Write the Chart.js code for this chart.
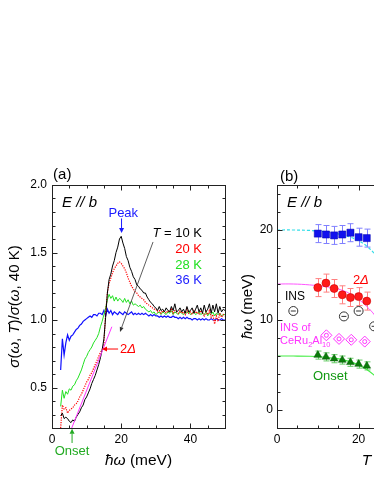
<!DOCTYPE html>
<html><head><meta charset="utf-8">
<script src="https://cdn.jsdelivr.net/npm/chart.js@4/dist/chart.umd.min.js"></script>
<style>
html,body{margin:0;padding:0;width:374px;height:484px;overflow:hidden;background:#fff;}
#wrap{position:relative;width:374px;height:484px;overflow:hidden;}
#ca{position:absolute;left:0;top:0;}
#cb{position:absolute;left:230px;top:0;}
</style></head><body><div id="wrap"><canvas id="ca" width="240" height="484"></canvas><canvas id="cb" width="270" height="484"></canvas></div>
<script>
// ---------- Panel (a) data ----------
const energy = [2.5,3.0,3.5,4.0,4.5,5.0,5.5,6.0,6.5,7.0,7.5,8.0,8.5,9.0,9.5,10.0,10.5,11.0,11.5,12.0,12.5,13.0,13.5,14.0,14.5,15.0,15.5,16.0,16.5,17.0,17.5,18.0,18.5,19.0,19.5,20.0,20.5,21.0,21.5,22.0,22.5,23.0,23.5,24.0,24.5,25.0,25.5,26.0,26.5,27.0,27.5,28.0,28.5,29.0,29.5,30.0,30.5,31.0,31.5,32.0,32.5,33.0,33.5,34.0,34.5,35.0,35.5,36.0,36.5,37.0,37.5,38.0,38.5,39.0,39.5,40.0,40.5,41.0,41.5,42.0,42.5,43.0,43.5,44.0,44.5,45.0,45.5,46.0,46.5,47.0,47.5,48.0,48.5,49.0,49.5,50.0];
const sigma10K = [0.29,0.31,0.27,0.28,0.27,0.25,0.24,0.26,0.25,0.28,0.30,0.32,0.35,0.37,0.41,0.43,0.46,0.49,0.53,0.56,0.59,0.63,0.67,0.72,0.78,0.86,1.02,1.20,1.30,1.34,1.40,1.44,1.50,1.54,1.60,1.62,1.57,1.53,1.47,1.44,1.39,1.36,1.32,1.30,1.26,1.25,1.23,1.22,1.20,1.20,1.17,1.15,1.13,1.12,1.10,1.09,1.07,1.10,1.07,1.08,1.06,1.09,1.07,1.06,1.10,1.07,1.12,1.06,1.07,1.09,1.06,1.08,1.05,1.10,1.06,1.07,1.09,1.05,1.08,1.11,1.06,1.09,1.05,1.11,1.06,1.08,1.12,1.05,1.11,1.06,1.12,1.05,1.10,1.06,1.08,1.07];
const sigma20K = [0.20,0.37,0.34,0.35,0.31,0.33,0.34,0.35,0.37,0.38,0.40,0.43,0.45,0.48,0.51,0.54,0.56,0.59,0.61,0.64,0.67,0.70,0.73,0.76,0.78,0.82,1.05,1.20,1.27,1.31,1.35,1.38,1.40,1.42,1.43,1.42,1.40,1.38,1.35,1.31,1.28,1.25,1.23,1.21,1.20,1.18,1.17,1.16,1.15,1.13,1.12,1.11,1.10,1.09,1.08,1.08,1.06,1.07,1.05,1.07,1.06,1.05,1.07,1.06,1.08,1.05,1.07,1.06,1.05,1.07,1.05,1.06,1.04,1.08,1.05,1.06,1.04,1.07,1.05,1.06,1.04,1.07,1.05,1.03,1.06,1.04,1.07,1.02,1.04,0.97,1.03,0.99,1.05,1.02,1.04,1.03];
const sigma28K = [0.36,0.48,0.42,0.47,0.45,0.49,0.48,0.51,0.52,0.55,0.57,0.60,0.63,0.67,0.71,0.73,0.76,0.78,0.80,0.83,0.85,0.87,0.90,0.95,0.99,1.04,1.09,1.15,1.19,1.16,1.18,1.14,1.17,1.14,1.16,1.15,1.13,1.16,1.13,1.15,1.12,1.14,1.11,1.12,1.11,1.10,1.11,1.09,1.10,1.08,1.07,1.06,1.07,1.05,1.06,1.04,1.05,1.06,1.04,1.06,1.05,1.04,1.06,1.05,1.07,1.04,1.06,1.05,1.04,1.06,1.05,1.04,1.06,1.05,1.07,1.04,1.05,1.06,1.04,1.05,1.06,1.04,1.05,1.04,1.06,1.03,1.05,1.04,1.06,1.03,1.05,1.04,1.05,1.03,1.04,1.04];
const sigma36K = [0.63,0.86,0.74,0.83,0.89,0.85,0.88,0.89,0.91,0.93,0.94,0.96,0.97,0.99,1.00,1.01,1.02,1.03,1.02,1.04,1.04,1.03,1.05,1.05,1.04,1.07,1.03,1.08,1.05,1.07,1.04,1.06,1.05,1.04,1.06,1.05,1.04,1.06,1.05,1.04,1.05,1.06,1.04,1.05,1.04,1.05,1.04,1.05,1.04,1.05,1.04,1.03,1.04,1.03,1.04,1.03,1.03,1.02,1.03,1.02,1.03,1.02,1.03,1.02,1.02,1.03,1.02,1.02,1.01,1.02,1.01,1.02,1.01,1.02,1.01,1.01,1.00,1.01,1.01,1.00,1.01,1.00,1.01,1.00,1.01,1.00,1.00,1.01,1.00,1.00,1.01,1.00,1.00,1.01,1.00,1.00];
const gapFitE = [5.7, 17.3];
const gapFitS = [0.20, 0.95];
const xTicksA = [0, 20, 40];
const yTicksA = [0.5, 1.0, 1.5, 2.0];

// ---------- Panel (b) data ----------
const tempB = [10, 12, 14, 16, 18, 20, 22];
const peakB = [19.6, 19.5, 19.4, 19.5, 19.7, 19.2, 19.1];
const peakErr = [1.0, 1.0, 1.0, 1.0, 1.0, 1.0, 1.0];
const gapB = [13.6, 14.1, 13.5, 12.8, 12.5, 12.6, 12.1];
const gapErr = [1.0, 1.0, 1.0, 1.0, 1.0, 1.0, 1.0];
const onsetB = [6.1, 5.9, 5.7, 5.55, 5.3, 5.1, 4.9];
const onsetErr = [0.45, 0.45, 0.45, 0.45, 0.45, 0.45, 0.45];
const insT = [4.0, 16.4, 20.0, 23.8];
const insE = [11.0, 10.4, 11.0, 9.3];
const insCeT = [12.1, 15.2, 18.2, 21.5];
const insCeE = [8.3, 7.9, 7.8, 7.6];
const fitT = [0, 4, 8, 12, 14, 16, 18, 20, 22, 24, 26];
const fitPeak = [20.0, 20.0, 19.95, 19.8, 19.65, 19.45, 19.2, 18.8, 18.2, 17.3, 16.0];
const fitGap = [14.0, 14.0, 13.9, 13.7, 13.55, 13.3, 12.9, 12.3, 11.5, 10.5, 9.0];
const fitOnset = [6.0, 6.0, 5.97, 5.85, 5.75, 5.6, 5.35, 5.0, 4.5, 3.8, 3.0];
const xTicksB = [0, 20, 40];
const yTicksB = [0, 10, 20];

// ---------- helpers ----------
const FAM = '"Liberation Sans", Arial, Helvetica, sans-serif';
Chart.defaults.font.family = FAM;
const pts = (xs, ys) => xs.map((x, i) => ({ x: x, y: ys[i] }));

function fontFor(p, size) {
  const s = p[1];
  const fs = s === 'sub' ? size * 0.68 : size;
  return (s === 'i' ? 'italic ' : '') + fs + 'px ' + FAM;
}
function drawRich(ctx, parts, x, y, o) {
  ctx.save();
  ctx.translate(x, y);
  if (o.rot) ctx.rotate(o.rot);
  let w = 0;
  for (const p of parts) { ctx.font = fontFor(p, o.size); w += ctx.measureText(p[0]).width; }
  let cx = o.align === 'center' ? -w / 2 : (o.align === 'right' ? -w : 0);
  ctx.fillStyle = o.color; ctx.textBaseline = 'middle'; ctx.textAlign = 'left';
  for (const p of parts) {
    ctx.font = fontFor(p, o.size);
    const dy = p[1] === 'sub' ? o.size * 0.32 : 0;
    ctx.fillText(p[0], cx, dy);
    cx += ctx.measureText(p[0]).width;
  }
  ctx.restore();
}
function drawArrow(ctx, x1, y1, x2, y2, color, lw, hl, hw) {
  const a = Math.atan2(y2 - y1, x2 - x1);
  const bx = x2 - Math.cos(a) * hl, by = y2 - Math.sin(a) * hl;
  ctx.save();
  ctx.strokeStyle = color; ctx.fillStyle = color; ctx.lineWidth = lw;
  ctx.beginPath(); ctx.moveTo(x1, y1); ctx.lineTo(bx, by); ctx.stroke();
  ctx.beginPath();
  ctx.moveTo(x2, y2);
  ctx.lineTo(bx + Math.sin(a) * hw, by - Math.cos(a) * hw);
  ctx.lineTo(bx - Math.sin(a) * hw, by + Math.cos(a) * hw);
  ctx.closePath(); ctx.fill();
  ctx.restore();
}

function makeFrame(cfg) {
  return {
    id: 'frame_' + cfg.name,
    beforeDatasetsDraw(chart) {
      const ctx = chart.ctx, ys = chart.scales.y;
      chart.data.datasets.forEach((ds, i) => {
        if (!ds.errors) return;
        const meta = chart.getDatasetMeta(i);
        ctx.save(); ctx.strokeStyle = ds.errorColor; ctx.lineWidth = 1;
        meta.data.forEach((el, j) => {
          const v = ds.data[j].y, e = ds.errors[j];
          const x = Math.round(el.x) + 0.5;
          const y1 = ys.getPixelForValue(v + e), y2 = ys.getPixelForValue(v - e);
          ctx.beginPath();
          ctx.moveTo(x, y1); ctx.lineTo(x, y2);
          ctx.moveTo(x - 3, y1); ctx.lineTo(x + 3, y1);
          ctx.moveTo(x - 3, y2); ctx.lineTo(x + 3, y2);
          ctx.stroke();
        });
        ctx.restore();
      });
    },
    afterDraw(chart) {
      const ctx = chart.ctx, xs = chart.scales.x, ys = chart.scales.y;
      const ca = chart.chartArea;
      const L = Math.round(ca.left) + 0.5, R = Math.round(ca.right) + 0.5;
      const T = Math.round(ca.top) + 0.5, B = Math.round(ca.bottom) + 0.5;
      ctx.save();
      ctx.strokeStyle = '#222'; ctx.lineWidth = 1;
      ctx.strokeRect(L, T, R - L, B - T);
      ctx.beginPath();
      const isMaj = (arr, v) => arr.some(m => Math.abs(m - v) < 1e-6);
      let n = Math.round((cfg.xMax - cfg.xMin) / cfg.xMinor);
      for (let k = 0; k <= n; k++) {
        const v = cfg.xMin + k * cfg.xMinor;
        const len = isMaj(cfg.xMajor, v) ? 5 : 3;
        const px = Math.round(xs.getPixelForValue(v)) + 0.5;
        ctx.moveTo(px, B); ctx.lineTo(px, B - len);
        ctx.moveTo(px, T); ctx.lineTo(px, T + len);
      }
      n = Math.round((cfg.yMax - cfg.yMin) / cfg.yMinor);
      for (let k = 0; k <= n; k++) {
        const v = cfg.yMin + k * cfg.yMinor;
        const len = isMaj(cfg.yMajor, v) ? 5 : 3;
        const py = Math.round(ys.getPixelForValue(v)) + 0.5;
        ctx.moveTo(L, py); ctx.lineTo(L + len, py);
        ctx.moveTo(R, py); ctx.lineTo(R - len, py);
      }
      ctx.stroke();
      ctx.restore();
      // titles
      drawRich(ctx, cfg.xTitle, (ca.left + ca.right) / 2, cfg.xTitleY, { align: 'center', size: 15.5, color: '#000' });
      drawRich(ctx, cfg.yTitle, cfg.yTitleX, (ca.top + ca.bottom) / 2, { align: 'center', size: 15, color: '#000', rot: -Math.PI / 2 });
      // annotations
      for (const a of cfg.ann) {
        if (a.t === 'text') {
          drawRich(ctx, a.parts, xs.getPixelForValue(a.x), ys.getPixelForValue(a.y), { align: a.align, size: a.size, color: a.color });
        } else if (a.t === 'arrow') {
          drawArrow(ctx, xs.getPixelForValue(a.x1), ys.getPixelForValue(a.y1), xs.getPixelForValue(a.x2), ys.getPixelForValue(a.y2), a.color, a.w, a.hl, a.hw);
        }
      }
    }
  };
}

function scaleOpts(min, max, ticksArr, fmt, pad, fitKey, fitVal) {
  return {
    type: 'linear', min: min, max: max,
    grid: { display: false, drawTicks: false },
    border: { display: false },
    ticks: { color: '#000', font: { size: 12 }, padding: pad, autoSkip: false, maxRotation: 0, callback: fmt },
    afterBuildTicks: s => { s.ticks = ticksArr.map(v => ({ value: v })); },
    afterFit: s => { s[fitKey] = fitVal; }
  };
}

// ---------- Chart (a) ----------
const annA = [
  { t: 'text', parts: [['(a)', 'n']], x: 0.3, y: 2.074, align: 'left', size: 15, color: '#000' },
  { t: 'text', parts: [['E // b', 'i']], x: 2.9, y: 1.867, align: 'left', size: 15, color: '#000' },
  { t: 'text', parts: [['Peak', 'n']], x: 20.6, y: 1.793, align: 'center', size: 13, color: '#1a1aff' },
  { t: 'arrow', x1: 20.1, y1: 1.752, x2: 20.1, y2: 1.644, color: '#1a1aff', w: 1, hl: 5, hw: 2.5 },
  { t: 'text', parts: [['T', 'i'], [' = 10 K', 'n']], x: 43.35, y: 1.644, align: 'right', size: 13, color: '#000' },
  { t: 'text', parts: [['20 K', 'n']], x: 43.35, y: 1.526, align: 'right', size: 13, color: '#ff0000' },
  { t: 'text', parts: [['28 K', 'n']], x: 43.35, y: 1.402, align: 'right', size: 13, color: '#22e022' },
  { t: 'text', parts: [['36 K', 'n']], x: 43.35, y: 1.291, align: 'right', size: 13, color: '#1a1aff' },
  { t: 'arrow', x1: 29.2, y1: 1.578, x2: 19.65, y2: 0.911, color: '#333', w: 0.8, hl: 5, hw: 2 },
  { t: 'text', parts: [['2', 'n'], ['Δ', 'i']], x: 19.65, y: 0.785, align: 'left', size: 13, color: '#ff0000' },
  { t: 'arrow', x1: 19.1, y1: 0.785, x2: 14.45, y2: 0.785, color: '#ff0000', w: 1, hl: 5, hw: 2.5 },
  { t: 'arrow', x1: 5.8, y1: 0.089, x2: 5.8, y2: 0.195, color: '#22aa22', w: 1, hl: 5, hw: 2.5 },
  { t: 'text', parts: [['Onset', 'n']], x: 5.8, y: 0.026, align: 'center', size: 13, color: '#22aa22' }
];
new Chart(document.getElementById('ca'), {
  type: 'line',
  data: {
    datasets: [
      { data: pts(gapFitE, gapFitS), borderColor: '#ff33ff', borderWidth: 1, pointRadius: 0, order: 0 },
      { data: pts(energy, sigma10K), borderColor: '#000000', borderWidth: 1, pointRadius: 0, order: 1 },
      { data: pts(energy, sigma20K), borderColor: '#ff0000', borderWidth: 1.2, borderDash: [1.2, 1.2], pointRadius: 0, order: 2 },
      { data: pts(energy, sigma28K), borderColor: '#22e022', borderWidth: 1, pointRadius: 0, order: 3 },
      { data: pts(energy, sigma36K), borderColor: '#1010ff', borderWidth: 1.2, pointRadius: 0, order: 4 }
    ]
  },
  options: {
    responsive: false, animation: false, devicePixelRatio: 1,
    layout: { padding: { left: 0, right: 15, top: 185, bottom: 0 } },
    plugins: { legend: { display: false }, tooltip: { enabled: false } },
    elements: { line: { tension: 0 } },
    scales: {
      x: scaleOpts(0, 50, xTicksA, v => String(v), 4, 'height', 56),
      y: scaleOpts(0.2, 2.0, yTicksA, v => v.toFixed(1), 5, 'width', 52)
    }
  },
  plugins: [makeFrame({
    name: 'a', xMin: 0, xMax: 50, xMinor: 5, xMajor: xTicksA,
    yMin: 0.2, yMax: 2.0, yMinor: 0.1, yMajor: yTicksA,
    xTitle: [['ħω', 'i'], [' (meV)', 'n']], xTitleY: 461,
    yTitle: [['σ', 'i'], ['(', 'n'], ['ω', 'i'], [', ', 'n'], ['T', 'i'], [')/', 'n'], ['σ', 'i'], ['(', 'n'], ['ω', 'i'], [', 40 K)', 'n']], yTitleX: 15,
    ann: annA
  })]
});

// ---------- Chart (b) ----------
const annB = [
  { t: 'text', parts: [['(b)', 'n']], x: 0.74, y: 25.9, align: 'left', size: 15, color: '#000' },
  { t: 'text', parts: [['E // b', 'i']], x: 2.45, y: 23.0, align: 'left', size: 15, color: '#000' },
  { t: 'text', parts: [['2', 'n'], ['Δ', 'i']], x: 18.6, y: 14.44, align: 'left', size: 13, color: '#ff0000' },
  { t: 'text', parts: [['INS', 'n']], x: 1.96, y: 12.6, align: 'left', size: 12, color: '#000' },
  { t: 'text', parts: [['INS of', 'n']], x: 0.74, y: 9.08, align: 'left', size: 11, color: '#ff33ff' },
  { t: 'text', parts: [['CeRu', 'n'], ['2', 'sub'], ['Al', 'n'], ['10', 'sub']], x: 0.74, y: 7.67, align: 'left', size: 11, color: '#ff33ff' },
  { t: 'text', parts: [['Onset', 'n']], x: 8.8, y: 3.7, align: 'left', size: 13, color: '#119911' }
];
new Chart(document.getElementById('cb'), {
  type: 'line',
  data: {
    datasets: [
      { data: pts(fitT, fitPeak), borderColor: '#33dde8', borderWidth: 1.2, borderDash: [3, 2], pointRadius: 0, tension: 0.4, order: 10 },
      { data: pts(fitT, fitGap), borderColor: '#ff55ff', borderWidth: 1, pointRadius: 0, tension: 0.4, order: 10 },
      { data: pts(fitT, fitOnset), borderColor: '#44ee44', borderWidth: 1.2, pointRadius: 0, tension: 0.4, order: 10 },
      { data: pts(tempB, peakB), errors: peakErr, errorColor: '#8080ff', showLine: false, pointStyle: 'rect', pointRadius: 5, pointBackgroundColor: '#1111ee', pointBorderColor: '#0000aa', pointBorderWidth: 0.5, order: 1 },
      { data: pts(tempB, gapB), errors: gapErr, errorColor: '#ff8080', showLine: false, pointStyle: 'circle', pointRadius: 4, pointBackgroundColor: '#ff1a1a', pointBorderColor: '#cc0000', pointBorderWidth: 0.6, order: 1 },
      { data: pts(tempB, onsetB), errors: onsetErr, errorColor: '#66cc66', showLine: false, pointStyle: 'triangle', pointRadius: 4.5, pointBackgroundColor: '#0a7a0a', pointBorderColor: '#066006', pointBorderWidth: 0.5, order: 1 },
      { data: pts(insT, insE), showLine: false, pointStyle: 'circle', pointRadius: 4.5, pointBackgroundColor: 'rgba(0,0,0,0)', pointBorderColor: '#333', pointBorderWidth: 1, order: 2 },
      { data: pts(insT, insE), showLine: false, pointStyle: 'line', pointRadius: 2.5, pointBorderColor: '#333', pointBorderWidth: 1, order: 1 },
      { data: pts(insCeT, insCeE), showLine: false, pointStyle: 'rectRot', pointRadius: 5.5, pointBackgroundColor: 'rgba(0,0,0,0)', pointBorderColor: '#ff33ff', pointBorderWidth: 1, order: 2 },
      { data: pts(insCeT, insCeE), showLine: false, pointStyle: 'circle', pointRadius: 2, pointBackgroundColor: 'rgba(0,0,0,0)', pointBorderColor: '#ff33ff', pointBorderWidth: 1, order: 1 }
    ]
  },
  options: {
    responsive: false, animation: false, devicePixelRatio: 1,
    layout: { padding: { left: 0, right: 19, top: 185, bottom: 0 } },
    plugins: { legend: { display: false }, tooltip: { enabled: false } },
    scales: {
      x: scaleOpts(0, 50, xTicksB, v => String(v), 4, 'height', 56),
      y: scaleOpts(-2, 25, yTicksB, v => String(v), 4, 'width', 47)
    }
  },
  plugins: [makeFrame({
    name: 'b', xMin: 0, xMax: 50, xMinor: 5, xMajor: xTicksB,
    yMin: -2, yMax: 24, yMinor: 2, yMajor: yTicksB,
    xTitle: [['T', 'i'], [' (K)', 'n']], xTitleY: 461,
    yTitle: [['ħω', 'i'], [' (meV)', 'n']], yTitleX: 18,
    ann: annB
  })]
});
</script></body></html>
